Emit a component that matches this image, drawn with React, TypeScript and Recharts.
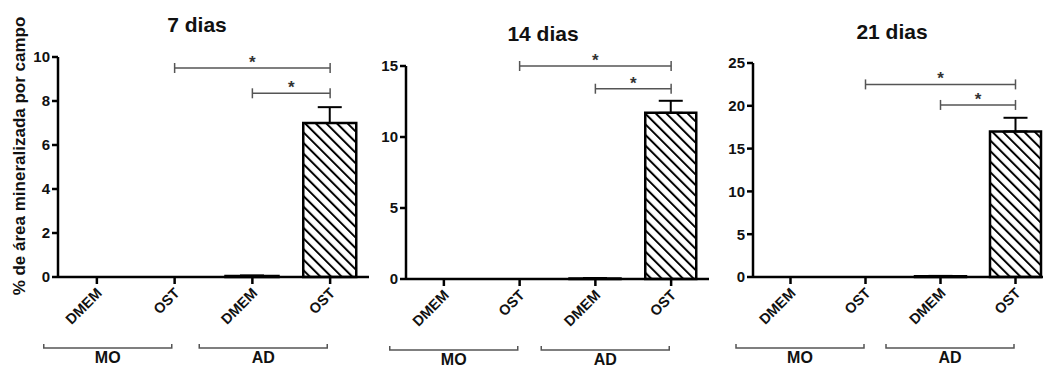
import { BarChart, Bar, XAxis, YAxis, Cell, ErrorBar, ReferenceLine } from 'recharts';

const FONT = '"Liberation Sans", Arial, sans-serif';

const CATEGORIES = ['MO-DMEM', 'MO-OST', 'AD-DMEM', 'AD-OST'];
const TICK_LABELS = ['DMEM', 'OST', 'DMEM', 'OST'];
const GROUPS = ['MO', 'MO', 'AD', 'AD'];

const MEANS_7 = [0, 0, 0.04, 7.0];
const SEM_7 = [0, 0, 0.03, 0.72];
const MEANS_14 = [0, 0, 0.04, 11.7];
const SEM_14 = [0, 0, 0.03, 0.85];
const MEANS_21 = [0, 0, 0.08, 17.0];
const SEM_21 = [0, 0, 0.05, 1.6];

const Y_TICKS_7 = [0, 2, 4, 6, 8, 10];
const Y_TICKS_14 = [0, 5, 10, 15];
const Y_TICKS_21 = [0, 5, 10, 15, 20, 25];

const SIG_7 = [
  { from: 'MO-OST', to: 'AD-OST', y: 9.5 },
  { from: 'AD-DMEM', to: 'AD-OST', y: 8.35 },
];
const SIG_14 = [
  { from: 'MO-OST', to: 'AD-OST', y: 15 },
  { from: 'AD-DMEM', to: 'AD-OST', y: 13.4 },
];
const SIG_21 = [
  { from: 'MO-OST', to: 'AD-OST', y: 22.5 },
  { from: 'AD-DMEM', to: 'AD-OST', y: 20.1 },
];

const TITLES = ['7 dias', '14 dias', '21 dias'];
const Y_LABEL = '% de área mineralizada por campo';

// layout of each panel (pixels)
const PANELS = [
  { id: 'p7', means: MEANS_7, sems: SEM_7, ticks: Y_TICKS_7, sig: SIG_7, left: 0, marginLeft: 18, plotWidth: 311, top: 57, bottom: 277, barSize: 53, titleX: 197, titleY: 32 },
  { id: 'p14', means: MEANS_14, sems: SEM_14, ticks: Y_TICKS_14, sig: SIG_14, left: 350, marginLeft: 16, plotWidth: 303, top: 66, bottom: 279, barSize: 51, titleX: 543, titleY: 41 },
  { id: 'p21', means: MEANS_21, sems: SEM_21, ticks: Y_TICKS_21, sig: SIG_21, left: 700, marginLeft: 13, plotWidth: 300, top: 63, bottom: 277, barSize: 51, titleX: 892, titleY: 39 },
];

const H = 369;
const Y_AXIS_W = 40;
const X_AXIS_H = 70;

function renderCategoryTick(props: any) {
  const { x, payload } = props;
  const label = TICK_LABELS[CATEGORIES.indexOf(payload.value)];
  // anchor relative to the axis line (tick y is axis + tickSize)
  const ax = x + 6;
  const ay = props.y + 10;
  return (
    <g transform={`translate(${ax} ${ay}) rotate(-45)`}>
      <text x={0} y={0} textAnchor="end" fontFamily={FONT} fontWeight="bold" fontSize={14.5} fill="#111">
        {label}
      </text>
    </g>
  );
}

function renderGroupTick(props: any) {
  const { x, y, payload } = props;
  const by = y + 1;
  return (
    <g>
      <path d={`M${x - 92},${by - 4} V${by} H${x + 36} V${by - 4}`} fill="none" stroke="#555" strokeWidth={1.5} />
      <text x={x - 28} y={by + 15} textAnchor="middle" fontFamily={FONT} fontWeight="bold" fontSize={16} fill="#111">
        {payload.value}
      </text>
    </g>
  );
}

function Panel({ p }: any) {
  const data = CATEGORIES.map((c, i) => ({ cat: c, group: GROUPS[i], mean: p.means[i], err: [0, p.sems[i]] }));
  const yMax = p.ticks[p.ticks.length - 1];
  const d = (5 * yMax) / (p.bottom - p.top);
  const width = p.marginLeft + Y_AXIS_W + p.plotWidth + 2;
  return (
    <div style={{ position: 'absolute', left: p.left, top: 0 }}>
      <BarChart
        width={width}
        height={H}
        data={data}
        margin={{ top: p.top, right: 2, left: p.marginLeft, bottom: 0 }}
      >
        <defs>
          <pattern id={`hatch-${p.id}`} patternUnits="userSpaceOnUse" width={7.5} height={7.5} patternTransform="rotate(-45)">
            <rect x={0} y={0} width={2} height={7.5} fill="#000" />
          </pattern>
        </defs>
        <XAxis
          dataKey="cat"
          height={X_AXIS_H}
          tick={renderCategoryTick}
          interval={0}
          tickSize={7}
          tickMargin={0}
          axisLine={{ stroke: '#000', strokeWidth: 2.5 }}
          tickLine={{ stroke: '#000', strokeWidth: 2.5 }}
        />
        <XAxis
          xAxisId="grp"
          dataKey="group"
          allowDuplicatedCategory={false}
          height={H - p.bottom - X_AXIS_H}
          tick={renderGroupTick}
          tickSize={0}
          tickMargin={0}
          axisLine={false}
          tickLine={false}
          interval={0}
        />
        <YAxis
          width={Y_AXIS_W}
          domain={[0, yMax]}
          ticks={p.ticks}
          interval={0}
          tickSize={6}
          tickMargin={2}
          axisLine={{ stroke: '#000', strokeWidth: 2.5 }}
          tickLine={{ stroke: '#000', strokeWidth: 2.5 }}
          tick={{ fill: '#111', fontSize: 15, fontWeight: 'bold', fontFamily: FONT }}
        />
        <Bar dataKey="mean" barSize={p.barSize} stroke="#000" strokeWidth={2.5} isAnimationActive={false}>
          {data.map((e, i) => (
            <Cell key={e.cat} fill={i === 3 ? `url(#hatch-${p.id})` : '#fff'} />
          ))}
          <ErrorBar dataKey="err" direction="y" width={12} stroke="#000" strokeWidth={2} isAnimationActive={false} />
        </Bar>
        {p.sig.map((s: any, i: number) => (
          <ReferenceLine
            key={`h${i}`}
            segment={[{ x: s.from, y: s.y }, { x: s.to, y: s.y }]}
            stroke="#555"
            strokeWidth={1.5}
            ifOverflow="visible"
            label={{ value: '*', position: 'top', offset: 0, fill: '#333', fontSize: 17, fontWeight: 'bold', fontFamily: FONT }}
          />
        ))}
        {p.sig.flatMap((s: any, i: number) =>
          [s.from, s.to].map((c, j) => (
            <ReferenceLine
              key={`v${i}-${j}`}
              segment={[{ x: c, y: s.y - d }, { x: c, y: s.y + d }]}
              stroke="#555"
              strokeWidth={1.5}
              ifOverflow="visible"
            />
          ))
        )}
      </BarChart>
    </div>
  );
}

export default function App() {
  return (
    <div style={{ position: 'absolute', left: 0, top: 0, width: 1043, height: H, overflow: 'hidden', background: '#fff' }}>
      {PANELS.map((p) => (
        <Panel key={p.id} p={p} />
      ))}
      <svg width={1043} height={H} style={{ position: 'absolute', left: 0, top: 0, pointerEvents: 'none' }}>
        {PANELS.map((p, i) => (
          <text key={p.id} x={p.titleX} y={p.titleY} textAnchor="middle" fontFamily={FONT} fontWeight="bold" fontSize={21} fill="#111">
            {TITLES[i]}
          </text>
        ))}
        <text
          x={25}
          y={156}
          textAnchor="middle"
          transform="rotate(-90 25 156)"
          fontFamily={FONT}
          fontWeight="bold"
          fontSize={17}
          fill="#111"
        >
          {Y_LABEL}
        </text>
      </svg>
    </div>
  );
}
